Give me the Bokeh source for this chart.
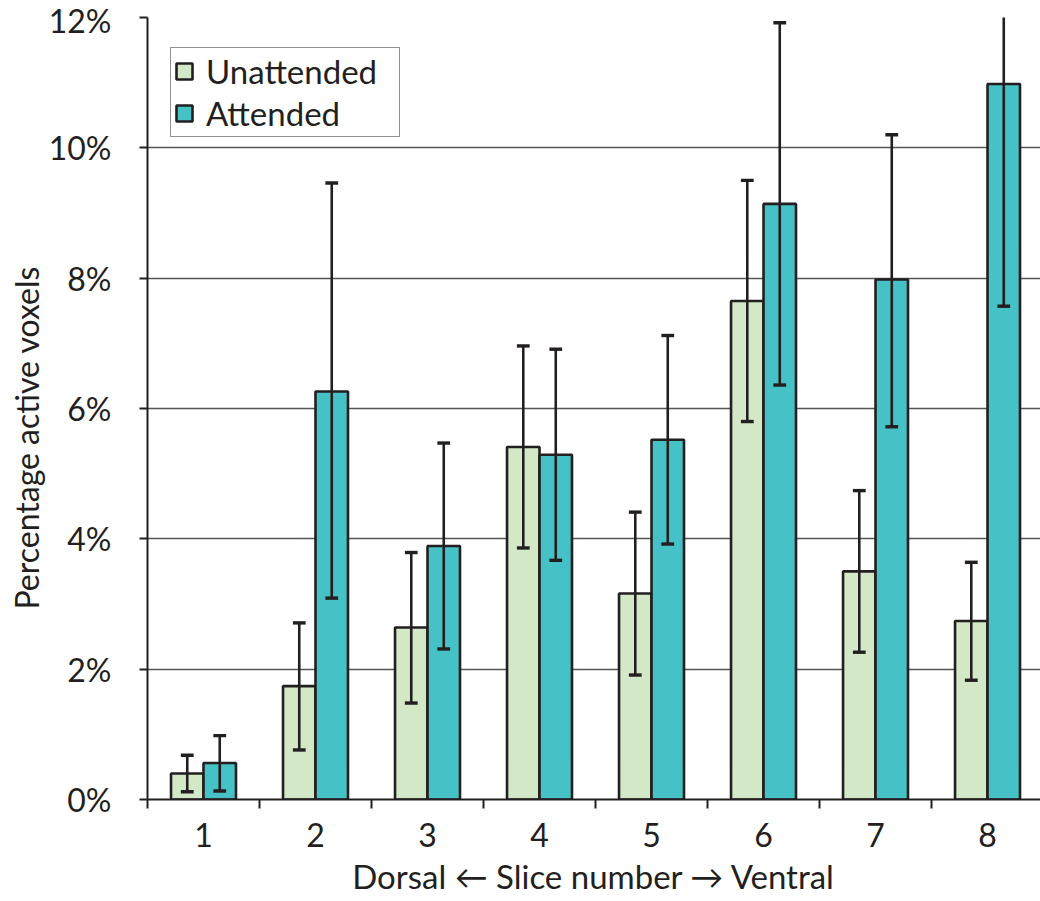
from bokeh.plotting import figure
from bokeh.models import Range1d, FixedTicker, ColumnDataSource, Title
from bokeh.transform import dodge
from bokeh.embed import file_html
from bokeh.resources import INLINE

# ---- data ----
slices = [1, 2, 3, 4, 5, 6, 7, 8]
slice_labels = ["1", "2", "3", "4", "5", "6", "7", "8"]

unattended = [0.40, 1.74, 2.64, 5.41, 3.16, 7.65, 3.50, 2.74]
unattended_low = [0.12, 0.76, 1.48, 3.86, 1.91, 5.80, 2.26, 1.83]
unattended_high = [0.68, 2.71, 3.79, 6.96, 4.41, 9.50, 4.74, 3.64]

attended = [0.56, 6.26, 3.89, 5.29, 5.52, 9.14, 7.98, 10.98]
attended_low = [0.13, 3.09, 2.31, 3.67, 3.92, 6.36, 5.72, 7.57]
attended_high = [0.98, 9.46, 5.47, 6.91, 7.12, 11.92, 10.20, 12.30]

y_ticks = [0, 2, 4, 6, 8, 10, 12]
y_tick_labels = ["0%", "2%", "4%", "6%", "8%", "10%", "12%"]

x_title = "Dorsal \u2190 Slice number \u2192 Ventral"
y_title = "Percentage active voxels"

# ---- style ----
FONT = "Lato"
INK = "#231f20"
C_UNATT = "#d3e8c6"
C_ATT = "#46c1c5"
GRID = "#555555"
BAR_W = 0.29
OFF = BAR_W / 2
CAP = 0.057

src = ColumnDataSource(dict(
    x=slices, u=unattended, ul=unattended_low, uh=unattended_high,
    a=attended, al=attended_low, ah=attended_high,
))

p = figure(
    width=1040, height=898,
    x_range=Range1d(0.5, 8.473), y_range=Range1d(0, 12),
    output_backend="svg", toolbar_location=None,
    min_border_left=147, min_border_right=0, min_border_top=17, min_border_bottom=98,
    outline_line_color=None, background_fill_color="white", border_fill_color="white",
)

# bars
p.vbar(x=dodge("x", -OFF, range=p.x_range), top="u", width=BAR_W, source=src,
       fill_color=C_UNATT, line_color=INK, line_width=2.6, legend_label="Unattended")
p.vbar(x=dodge("x", OFF, range=p.x_range), top="a", width=BAR_W, source=src,
       fill_color=C_ATT, line_color=INK, line_width=2.6, legend_label="Attended")

# error bars
for off, lo, hi in [(-OFF, "ul", "uh"), (OFF, "al", "ah")]:
    p.segment(x0=dodge("x", off, range=p.x_range), y0=lo,
              x1=dodge("x", off, range=p.x_range), y1=hi,
              source=src, line_color=INK, line_width=2.6)
    for end in (lo, hi):
        p.segment(x0=dodge("x", off - CAP, range=p.x_range), y0=end,
                  x1=dodge("x", off + CAP, range=p.x_range), y1=end,
                  source=src, line_color=INK, line_width=3.4)

# grid
p.xgrid.visible = False
p.ygrid.ticker = FixedTicker(ticks=y_ticks)
p.ygrid.grid_line_color = GRID
p.ygrid.grid_line_width = 1.5

# y axis
ya = p.yaxis[0]
ya.ticker = FixedTicker(ticks=y_ticks)
ya.major_label_overrides = dict(zip(y_ticks, y_tick_labels))
ya.axis_line_color = INK
ya.axis_line_width = 2
ya.major_tick_line_color = INK
ya.major_tick_line_width = 2
ya.major_tick_out = 8
ya.major_tick_in = 0
ya.minor_tick_line_color = None
ya.major_label_standoff = 28
ya.major_label_text_font = FONT
ya.major_label_text_font_size = "32px"
ya.major_label_text_color = INK

# x axis
xa = p.xaxis[0]
xa.ticker = FixedTicker(ticks=slices, minor_ticks=[s - 0.5 for s in slices] + [8.5])
xa.major_label_overrides = dict(zip(slices, slice_labels))
xa.axis_line_color = INK
xa.axis_line_width = 2
xa.major_tick_line_color = None
xa.major_tick_out = 0
xa.major_tick_in = 0
xa.minor_tick_line_color = INK
xa.minor_tick_line_width = 2
xa.minor_tick_out = 9
xa.minor_tick_in = 0
xa.major_label_standoff = 14
xa.major_label_text_font = FONT
xa.major_label_text_font_size = "32px"
xa.major_label_text_color = INK
xa.axis_label = x_title
xa.axis_label_standoff = 6
xa.axis_label_text_font = FONT
xa.axis_label_text_font_size = "33px"
xa.axis_label_text_font_style = "normal"
xa.axis_label_text_color = INK

# y title as a side title, shifted down like the reference
p.add_layout(Title(text=y_title, align="left", offset=190, standoff=0,
                   text_font=FONT, text_font_size="32px", text_font_style="normal",
                   text_color=INK), "left")

# legend
lg = p.legend[0]
lg.location = (23, 662)
lg.border_line_color = INK
lg.border_line_width = 1.5
lg.background_fill_color = "white"
lg.background_fill_alpha = 1
lg.padding = 3
lg.spacing = 2
lg.margin = 0
lg.glyph_width = 20
lg.glyph_height = 20
lg.label_standoff = 12
lg.label_width = 190
lg.label_text_font = FONT
lg.label_text_font_size = "33px"
lg.label_text_color = INK

open("out.html", "w").write(file_html(p, INLINE))
